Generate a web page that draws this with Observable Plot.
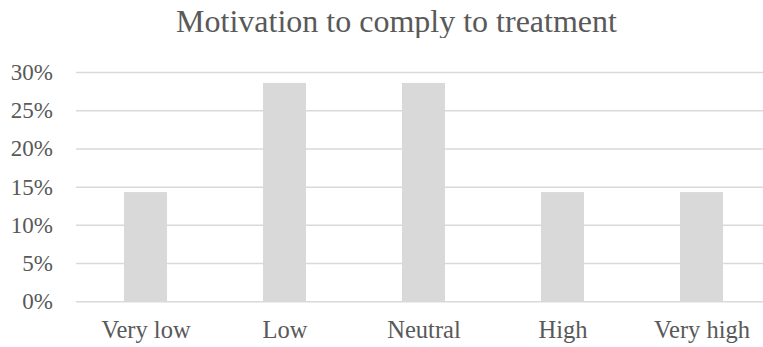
<!DOCTYPE html>
<html>
<head>
<meta charset="utf-8">
<script src="https://cdn.jsdelivr.net/npm/d3@7"></script>
<script src="https://cdn.jsdelivr.net/npm/@observablehq/plot@0.6"></script>
<style>
  html, body { margin: 0; padding: 0; background: #fff; overflow: hidden; }
  #chart { position: relative; width: 763px; height: 347px; }
  #title {
    position: absolute; left: 0; top: 4px; width: 793px;
    text-align: center;
    font-family: "Liberation Serif", "Times New Roman", serif;
    font-size: 32px; line-height: 34px; color: #595959;
    white-space: nowrap;
  }
  #plot { position: absolute; left: 0; top: 38px; }
</style>
</head>
<body>
<div id="chart">
  <div id="title">Motivation to comply to treatment</div>
  <div id="plot"></div>
</div>
<script>
// Share of respondents per motivation level (percent)
const levels = ["Very low", "Low", "Neutral", "High", "Very high"];
const shares = [14.29, 28.57, 28.57, 14.29, 14.29];
const yTicks = [0, 5, 10, 15, 20, 25, 30];

const rows = levels.map((level, i) => ({level, share: shares[i] / 100}));

const textColor = "#595959";
const gridColor = "#d9d9d9";
const barColor = "#d9d9d9";

const chart = Plot.plot({
  width: 763,
  height: 309,
  marginLeft: 76,
  marginRight: 0,
  marginTop: 34,
  marginBottom: 45.7,
  style: {
    fontFamily: "'Liberation Serif', 'Times New Roman', serif",
    fontSize: "23px",
    color: textColor,
    background: "#fff",
    overflow: "visible"
  },
  x: {
    domain: levels,
    range: [75.5, 770.5],
    paddingInner: 0.691,
    paddingOuter: 0.3455,
    label: null
  },
  y: {
    domain: [0, 0.30],
    label: null
  },
  marks: [
    Plot.ruleY(yTicks.map(t => t / 100), {stroke: gridColor, strokeWidth: 1.5}),
    Plot.barY(rows, {x: "level", y: "share", fill: barColor}),
    Plot.axisX({tickSize: 0, tickPadding: 19, fill: textColor, fontSize: 24.5, label: null}),
    Plot.axisY({
      ticks: yTicks.map(t => t / 100),
      tickFormat: d => `${Math.round(d * 100)}%`,
      tickSize: 0, tickPadding: 23.7, fill: textColor, fontSize: 23, label: null
    })
  ]
});

document.getElementById("plot").appendChild(chart);
</script>
</body>
</html>
